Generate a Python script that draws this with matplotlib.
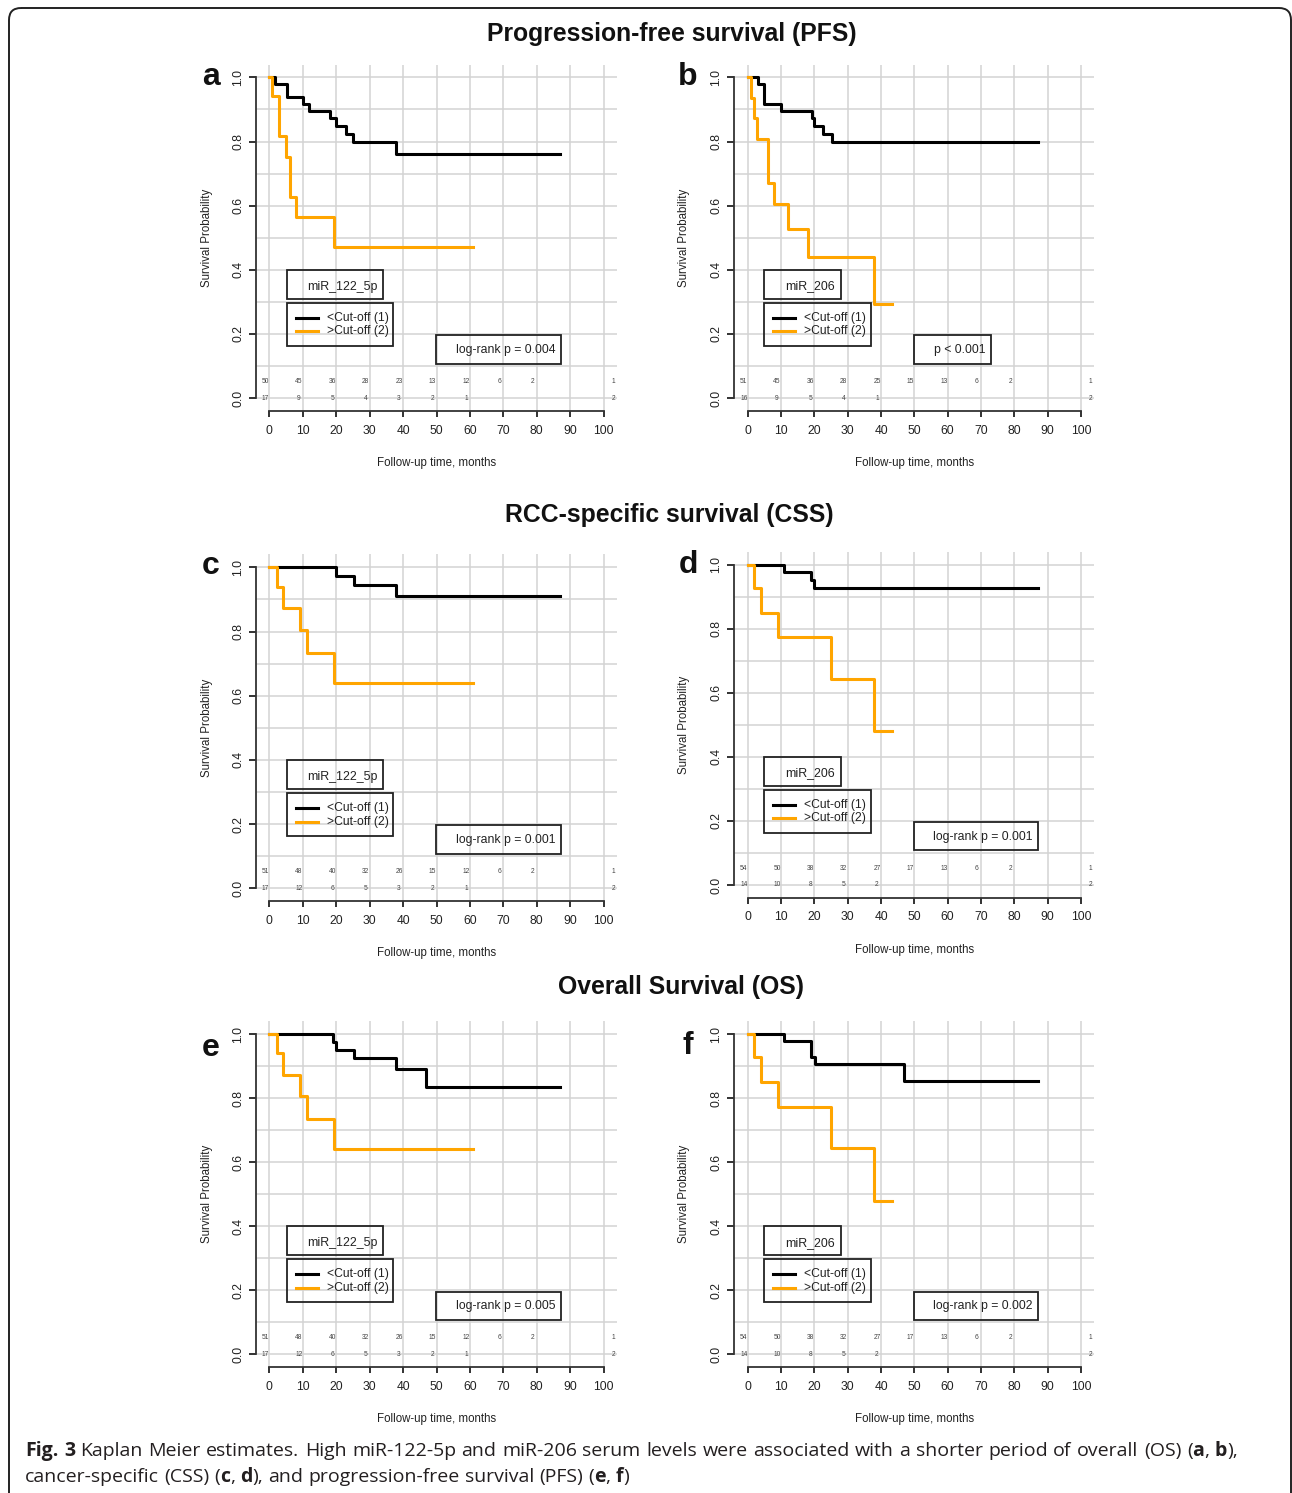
import matplotlib
matplotlib.use("Agg")
import matplotlib.pyplot as plt
from matplotlib.patches import Rectangle, FancyBboxPatch

W, H = 1292, 1493
plt.rcParams['font.family'] = ['Liberation Sans', 'DejaVu Sans']

# ---------------- values ----------------
x_ticks = [0, 10, 20, 30, 40, 50, 60, 70, 80, 90, 100]
y_ticks = [0.0, 0.2, 0.4, 0.6, 0.8, 1.0]
grid_y = [0.0, 0.1, 0.2, 0.3, 0.4, 0.5, 0.6, 0.7, 0.8, 0.9, 1.0]
risk_times = [0, 10, 20, 30, 40, 50, 60, 70, 80]
risk_tail = [1, 2]  # numbers printed at the far right of the at-risk rows

# a: PFS, miR_122_5p
a_low_t = [0, 1.7, 5.2, 10, 12, 18, 20, 23, 25, 38, 87]
a_low_s = [1.0, 0.98, 0.94, 0.918, 0.895, 0.872, 0.848, 0.823, 0.798, 0.762, 0.762]
a_high_t = [0, 0.9, 3, 5, 6.2, 8, 19.4, 61]
a_high_s = [1.0, 0.941, 0.816, 0.753, 0.627, 0.565, 0.47, 0.47]
a_risk_low = [50, 45, 36, 28, 23, 13, 12, 6, 2]
a_risk_high = [17, 9, 5, 4, 3, 2, 1]

# b: PFS, miR_206
b_low_t = [0, 3, 5, 10, 19.2, 20, 22.7, 25.2, 87.2]
b_low_s = [1.0, 0.978, 0.916, 0.895, 0.872, 0.848, 0.822, 0.798, 0.798]
b_high_t = [0, 1, 2, 2.7, 6, 8, 12, 18, 38, 43.4]
b_high_s = [1.0, 0.936, 0.872, 0.808, 0.672, 0.605, 0.528, 0.44, 0.293, 0.293]
b_risk_low = [51, 45, 36, 28, 25, 15, 13, 6, 2]
b_risk_high = [16, 9, 5, 4, 1]

# c: CSS, miR_122_5p
c_low_t = [0, 20, 25.2, 38, 87]
c_low_s = [1.0, 0.973, 0.945, 0.912, 0.912]
c_high_t = [0, 2.3, 4, 9.2, 11.2, 19.4, 61]
c_high_s = [1.0, 0.938, 0.872, 0.805, 0.734, 0.64, 0.64]
c_risk_low = [51, 48, 40, 32, 26, 15, 12, 6, 2]
c_risk_high = [17, 12, 6, 5, 3, 2, 1]

# d: CSS, miR_206
d_low_t = [0, 11, 19, 20, 87.2]
d_low_s = [1.0, 0.978, 0.952, 0.927, 0.927]
d_high_t = [0, 2, 4, 9, 25, 38, 43.4]
d_high_s = [1.0, 0.927, 0.85, 0.773, 0.643, 0.48, 0.48]
d_risk_low = [54, 50, 38, 32, 27, 17, 13, 6, 2]
d_risk_high = [14, 10, 8, 5, 2]

# e: OS, miR_122_5p
e_low_t = [0, 19, 20, 25.2, 38, 47, 87]
e_low_s = [1.0, 0.976, 0.95, 0.925, 0.891, 0.836, 0.836]
e_high_t = [0, 2.3, 4, 9.2, 11.2, 19.4, 61]
e_high_s = [1.0, 0.94, 0.873, 0.806, 0.735, 0.64, 0.64]
e_risk_low = [51, 48, 40, 32, 26, 15, 12, 6, 2]
e_risk_high = [17, 12, 6, 5, 3, 2, 1]

# f: OS, miR_206
f_low_t = [0, 11, 19, 20.2, 47, 87.2]
f_low_s = [1.0, 0.978, 0.929, 0.905, 0.853, 0.853]
f_high_t = [0, 2, 4, 9, 25, 38, 43.4]
f_high_s = [1.0, 0.927, 0.85, 0.773, 0.643, 0.48, 0.48]
f_risk_low = [54, 50, 38, 32, 27, 17, 13, 6, 2]
f_risk_high = [14, 10, 8, 5, 2]

letters = ['a', 'b', 'c', 'd', 'e', 'f']
markers = ['miR_122_5p', 'miR_206', 'miR_122_5p', 'miR_206', 'miR_122_5p', 'miR_206']
p_texts = ['log-rank p = 0.004', 'p < 0.001', 'log-rank p = 0.001',
           'log-rank p = 0.001', 'log-rank p = 0.005', 'log-rank p = 0.002']
legend_labels = ['<Cut-off (1)', '>Cut-off (2)']
section_titles = ['Progression-free survival (PFS)', 'RCC-specific survival (CSS)', 'Overall Survival (OS)']
caption1 = ('**Fig. 3** Kaplan Meier estimates. High miR-122-5p and miR-206 serum levels were '
            'associated with a shorter period of overall (OS) (**a**, **b**),')
caption2 = 'cancer-specific (CSS) (**c**, **d**), and progression-free survival (PFS) (**e**, **f**)'

curves = [(a_low_t, a_low_s, a_high_t, a_high_s, a_risk_low, a_risk_high),
          (b_low_t, b_low_s, b_high_t, b_high_s, b_risk_low, b_risk_high),
          (c_low_t, c_low_s, c_high_t, c_high_s, c_risk_low, c_risk_high),
          (d_low_t, d_low_s, d_high_t, d_high_s, d_risk_low, d_risk_high),
          (e_low_t, e_low_s, e_high_t, e_high_s, e_risk_low, e_risk_high),
          (f_low_t, f_low_s, f_high_t, f_high_s, f_risk_low, f_risk_high)]

# ---------------- layout (pixels) ----------------
axes_px = [(256, 64.5, 617, 411), (734.4, 64.5, 1094.3, 411),
           (256, 554.5, 617, 901.1), (734.4, 551.9, 1094.3, 897.8),
           (256, 1021.2, 617, 1367.1), (734.4, 1021.2, 1094.3, 1367.1)]
letter_px = [(211, 77), (688, 77), (211, 566), (688, 565), (211, 1048), (688, 1046)]
title_px = [(672, 34), (669, 515), (681, 987)]

INK = '#222222'
ORANGE = '#FFA500'

fig = plt.figure(figsize=(W / 100, H / 100), dpi=100)
page = fig.add_axes([0, 0, 1, 1], zorder=-1)
page.set_xlim(0, W)
page.set_ylim(H, 0)
page.axis('off')
page.add_patch(FancyBboxPatch((9, 8), 1282, 1600, boxstyle='round,pad=0,rounding_size=12',
                              fill=False, lw=1.4, ec=INK))

for (tx, ty), ttl in zip(title_px, section_titles):
    page.text(tx, ty, ttl, ha='center', va='center', fontsize=17.8, fontweight='bold', color='#111')

for i, (lt, ls, ht, hs, rl, rh) in enumerate(curves):
    l, t, r, b = axes_px[i]
    left_col = (i % 2 == 0)
    ax = fig.add_axes([l / W, 1 - b / H, (r - l) / W, (b - t) / H])
    ax.set_facecolor('none')
    ax.set_xlim(-4, 104)
    ax.set_ylim(-0.04, 1.04)
    for gx in x_ticks:
        ax.axvline(gx, color='#d3d3d3', lw=1.1, zorder=0)
    for gy in grid_y:
        ax.axhline(gy, color='#d3d3d3', lw=1.1, zorder=0)

    ax.set_xticks(x_ticks)
    ax.set_yticks(y_ticks)
    ax.set_yticklabels([f'{v:.1f}' for v in y_ticks], rotation=90, va='center')
    for s in ['top', 'right']:
        ax.spines[s].set_visible(False)
    ax.spines['left'].set_bounds(0, 1)
    ax.spines['bottom'].set_bounds(0, 100)
    for s in ['left', 'bottom']:
        ax.spines[s].set_linewidth(1.3)
        ax.spines[s].set_color('#333')
    ax.tick_params(axis='x', length=4.3, width=1.3, pad=5.5, labelsize=8.7, colors='#222')
    ax.tick_params(axis='y', length=5, width=1.3, pad=3.6, labelsize=8.7, colors='#222')

    ax.step(lt, ls, where='post', color='black', lw=2.2, zorder=3)
    ax.step(ht, hs, where='post', color=ORANGE, lw=2.2, zorder=3)

    # numbers at risk
    for rt, n in zip(risk_times, rl):
        ax.text(rt - 1.2, 0.052, str(n), ha='center', va='center', fontsize=4.8, color='#444')
    for rt, n in zip(risk_times, rh):
        ax.text(rt - 1.2, 0.0, str(n), ha='center', va='center', fontsize=4.8, color='#444')
    ax.text(102.9, 0.052, str(risk_tail[0]), ha='center', va='center', fontsize=4.8, color='#444')
    ax.text(102.9, 0.0, str(risk_tail[1]), ha='center', va='center', fontsize=4.8, color='#444')

    # legend: title box + line box
    bx0 = 5.2 if left_col else 5.0
    title_right = 34.1 if left_col else 27.9
    title_cx = 21.7 if left_col else 18.7
    ax.add_patch(Rectangle((bx0, 0.309), title_right - bx0, 0.09, fill=False, lw=1.3, ec=INK, zorder=4))
    ax.text(title_cx, 0.348, markers[i], ha='center', va='center', fontsize=8.9, color=INK, zorder=5)
    ax.add_patch(Rectangle((bx0, 0.163), 36.85 - bx0, 0.134, fill=False, lw=1.3, ec=INK, zorder=4))
    for ly, col, lab in zip([0.251, 0.208], ['black', ORANGE], legend_labels):
        ax.plot([bx0 + 2.7, bx0 + 9.3], [ly, ly], color=col, lw=2.2, zorder=5)
        ax.text(bx0 + 12.0, ly, lab, ha='left', va='center', fontsize=8.7, color=INK, zorder=5)

    # p-value box
    p_right = 87.2 if len(p_texts[i]) > 12 else 73.0
    ax.add_patch(Rectangle((49.9, 0.108), p_right - 49.9, 0.088, fill=False, lw=1.3, ec=INK, zorder=4))
    ax.text(p_right - 1.7, 0.151, p_texts[i], ha='right', va='center', fontsize=8.8, color=INK, zorder=5)

    ax.set_xlabel('Follow-up time, months', fontsize=8.3, color=INK)
    ax.xaxis.label.set_va('center')
    ax.xaxis.set_label_coords(0.5, -0.15)
    ax.set_ylabel('Survival Probability', fontsize=8.3, color=INK)
    ax.yaxis.label.set_va('center')
    ax.yaxis.set_label_coords(-0.136 if left_col else -0.14, 0.5)

    lx, ly = letter_px[i]
    page.text(lx, ly, letters[i], ha='center', va='center', fontsize=23, fontweight='bold', color='#111')

# ---------------- caption ----------------
cap_font = ['Open Sans', 'DejaVu Sans']
renderer = fig.canvas.get_renderer()


def caption_line(y, text, x0, x1=None, size=14):
    bold = False
    words = []
    for w in text.split(' '):
        runs = []
        parts = w.split('**')
        for k, p in enumerate(parts):
            if k > 0:
                bold = not bold
            if p:
                runs.append((p, bold))
        words.append(runs)
    placed = []
    widths = []
    for runs in words:
        arts = []
        total = 0
        for p, bd in runs:
            tt = page.text(0, y, p, fontsize=size, fontweight='bold' if bd else 'normal',
                           family=cap_font, ha='left', va='baseline', color='#231f20')
            wd = tt.get_window_extent(renderer).width
            arts.append((tt, wd))
            total += wd
        placed.append(arts)
        widths.append(total)
    t1 = page.text(0, 0, 'a a', fontsize=size, family=cap_font)
    t2 = page.text(0, 0, 'aa', fontsize=size, family=cap_font)
    space = t1.get_window_extent(renderer).width - t2.get_window_extent(renderer).width
    t1.remove()
    t2.remove()
    if x1 is None:
        gap = space
    else:
        gap = max(space * 0.8, (x1 - x0 - sum(widths)) / (len(words) - 1))
    x = x0
    for arts in placed:
        for tt, wd in arts:
            tt.set_x(x)
            x += wd
        x += gap


caption_line(1456, caption1, 25, 1238)
caption_line(1482, caption2, 25)

fig.savefig('out.png', dpi=100)
